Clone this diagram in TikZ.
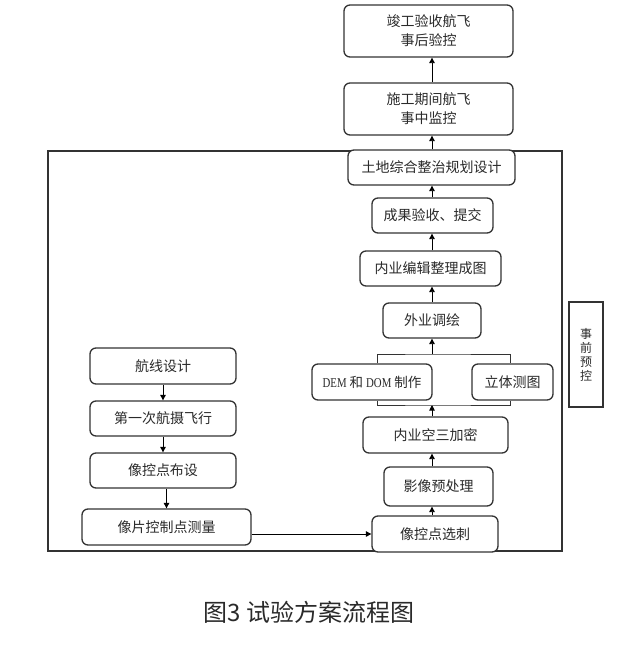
\documentclass[tikz,border=0pt]{standalone}
\usepackage{fontspec}
\setmainfont{Noto Sans CJK SC}
\newfontfamily\latserif{Liberation Serif}
\usetikzlibrary{arrows.meta,calc}
\definecolor{ink}{HTML}{2A2A2A}
\definecolor{edge}{HTML}{333333}
\newcommand{\narrowlat}[1]{\scalebox{0.8}[1]{\latserif #1}}
\begin{document}
\begin{tikzpicture}[x=1pt,y=-1pt,
  box/.style={draw=edge,line width=1.3pt,rounded corners=6pt,fill=white,inner sep=0pt,
    text=ink,font=\fontsize{14}{19}\selectfont,align=center},
  plain/.style={draw=edge,line width=1.1pt,fill=white,inner sep=0pt,text=ink,
    font=\fontsize{12}{14}\selectfont,align=center},
  arr/.style={draw=black,line width=0.9pt,-{Triangle[length=5.5pt,width=5.5pt]}},
  ln/.style={draw=edge,line width=1pt},
  frame/.style={draw=edge,line width=1.1pt}]
\useasboundingbox (0,0) rectangle (630,649);
% outer frame
\draw[frame] (48,151) rectangle (562,551);
% right column
\node[box,minimum width=169pt,minimum height=52pt] (jg) at (428.5,31) {竣工验收航飞\\事后验控};
\node[box,minimum width=169pt,minimum height=52pt] (sg) at (428.5,109) {施工期间航飞\\事中监控};
\node[box,minimum width=167pt,minimum height=35pt] (td) at (431.5,167.5) {土地综合整治规划设计};
\node[box,minimum width=121pt,minimum height=35pt] (cg) at (432.5,215.5) {成果验收、提交};
\node[box,minimum width=141pt,minimum height=35pt] (nb) at (430.5,268.5) {内业编辑整理成图};
\node[box,minimum width=98pt,minimum height=35pt] (wy) at (432,320.5) {外业调绘};
\node[box,minimum width=120pt,minimum height=36pt,font=\fontsize{13.5}{16}\selectfont] (dem) at (372,382) {\narrowlat{DEM} 和 \narrowlat{DOM} 制作};
\node[box,minimum width=81pt,minimum height=36pt] (lt) at (512.5,382) {立体测图};
\node[box,minimum width=145pt,minimum height=36pt] (ks) at (435.5,435) {内业空三加密};
\node[box,minimum width=109pt,minimum height=39pt] (yx) at (438.5,486.5) {影像预处理};
\node[box,minimum width=126pt,minimum height=36pt] (xc) at (435,534) {像控点选刺};
% side label
\node[plain,minimum width=34pt,minimum height=105pt] (sq) at (586,354.5) {事\\前\\预\\控};
% left column
\node[box,minimum width=146pt,minimum height=36pt] (hx) at (163,366) {航线设计};
\node[box,minimum width=146pt,minimum height=35pt] (dy) at (163,418.5) {第一次航摄飞行};
\node[box,minimum width=146pt,minimum height=35pt] (bs) at (163,470.5) {像控点布设};
\node[box,minimum width=169pt,minimum height=36pt] (cl) at (166.5,527) {像片控制点测量};
% helper coordinates
\coordinate (col) at (432,0);
\coordinate (btop) at (432,354);
\coordinate (bbot) at (432,405);
\coordinate (bl) at (377,0);
\coordinate (br) at (510,0);
% right column arrows
\draw[arr] (sg.north -| col) -- (jg.south -| col);
\draw[arr] (td.north -| col) -- (sg.south -| col);
\draw[arr] (cg.north -| col) -- (td.south -| col);
\draw[arr] (nb.north -| col) -- (cg.south -| col);
\draw[arr] (wy.north -| col) -- (nb.south -| col);
\draw[arr] (btop) -- (wy.south -| col);
\draw[arr] (ks.north -| col) -- (bbot);
\draw[arr] (yx.north -| col) -- (ks.south -| col);
\draw[arr] (xc.north -| col) -- (yx.south -| col);
% brackets
\draw[ln] (dem.north -| bl) |- (btop) -| (lt.north -| br);
\draw[ln] (dem.south -| bl) |- (bbot) -| (lt.south -| br);
% left column arrows
\draw[arr] (hx.south) -- (dy.north);
\draw[arr] (dy.south) -- (bs.north);
\draw[arr] (cl.north |- bs.south) -- (cl.north);
\draw[arr] (cl.east |- xc.west) -- (xc.west);
% caption
\node[text=ink,font=\fontsize{24}{28}\selectfont] (cap) at (309,612) {图3 试验方案流程图};
\end{tikzpicture}
\end{document}
